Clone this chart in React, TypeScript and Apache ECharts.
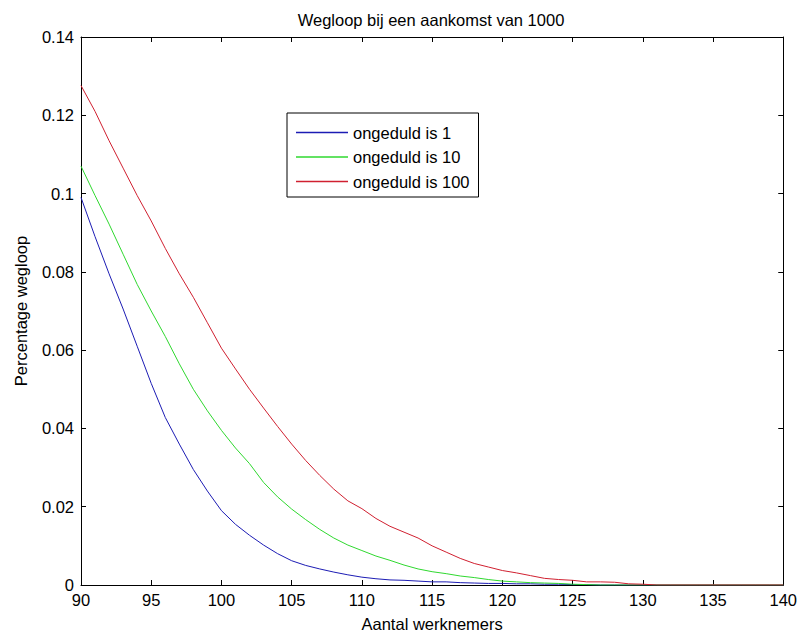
import React, { useEffect, useRef } from "react";
import * as echarts from "echarts";

const FONT = "'Liberation Sans', Arial, sans-serif";

const titleText = "Wegloop bij een aankomst van 1000";
const xName = "Aantal werknemers";
const yName = "Percentage wegloop";

const xValues = [
  90, 91, 92, 93, 94, 95, 96, 97, 98, 99, 100, 101, 102, 103, 104, 105, 106,
  107, 108, 109, 110, 111, 112, 113, 114, 115, 116, 117, 118, 119, 120, 121,
  122, 123, 124, 125, 126, 127, 128, 129, 130, 131, 132, 133, 134, 135, 136,
  137, 138, 139, 140,
];

const seriesNames = ["ongeduld is 1", "ongeduld is 10", "ongeduld is 100"];
const seriesColors = ["#1c1cb4", "#2fd82f", "#d02030"];

const ongeduld1 = [
  0.099, 0.089, 0.0795, 0.0705, 0.061, 0.0515, 0.0428, 0.036, 0.0295, 0.024,
  0.019, 0.0155, 0.0127, 0.0102, 0.008, 0.0062, 0.005, 0.0041, 0.0033, 0.0026,
  0.002, 0.0016, 0.0013, 0.0012, 0.001, 0.0008, 0.0008, 0.0006, 0.0005, 0.0004,
  0.0004, 0.0003, 0.0003, 0.0002, 0.0002, 0.0001, 0.0001, 0, 0, 0, 0, 0, 0, 0,
  0, 0, 0, 0, 0, 0, 0,
];

const ongeduld10 = [
  0.107, 0.0995, 0.0922, 0.0845, 0.0768, 0.07, 0.0635, 0.0565, 0.05, 0.0445,
  0.0395, 0.035, 0.031, 0.0262, 0.0225, 0.0194, 0.0167, 0.0142, 0.012, 0.0102,
  0.0088, 0.0074, 0.0063, 0.0051, 0.0041, 0.0034, 0.0029, 0.0023, 0.0019,
  0.0014, 0.001, 0.0008, 0.0006, 0.0005, 0.0004, 0.0002, 0.0001, 0, 0, 0, 0, 0,
  0, 0, 0, 0, 0, 0, 0, 0, 0,
];

const ongeduld100 = [
  0.1276, 0.121, 0.1135, 0.1065, 0.0995, 0.093, 0.086, 0.0795, 0.0735, 0.067,
  0.0605, 0.0552, 0.05, 0.0452, 0.0405, 0.036, 0.0318, 0.028, 0.0245, 0.0215,
  0.0195, 0.017, 0.015, 0.0135, 0.012, 0.01, 0.0084, 0.0068, 0.0055, 0.0046,
  0.0037, 0.0031, 0.0024, 0.0017, 0.0014, 0.0012, 0.0008, 0.0008, 0.0007,
  0.0003, 0.0002, 0, 0, 0, 0, 0, 0, 0, 0, 0, 0,
];

const allSeries = [ongeduld1, ongeduld10, ongeduld100];

export default function App() {
  const ref = useRef<HTMLDivElement>(null);

  useEffect(() => {
    if (!ref.current) return;
    const chart = echarts.init(ref.current, undefined, { renderer: "svg" });

    const axisLine = { show: true, onZero: false, lineStyle: { color: "#000", width: 1 } };
    const axisTick = { show: true, inside: true, length: 5, lineStyle: { color: "#000", width: 1 } };
    const labelStyle = { color: "#000", fontSize: 16.5, fontFamily: FONT };

    const option: any = {
      animation: false,
      backgroundColor: "#ffffff",
      grid: { left: 81, right: 15, top: 37, bottom: 47, containLabel: false },
      graphic: [
        {
          type: "text",
          x: 431,
          y: 20,
          style: {
            text: titleText,
            fill: "#000",
            font: `16.5px ${FONT}`,
            textAlign: "center",
            textVerticalAlign: "middle",
          },
        },
      ],
      legend: {
        orient: "vertical",
        left: 287,
        top: 113,
        icon: "rect",
        itemWidth: 52,
        itemHeight: 1.5,
        itemGap: 7.5,
        padding: [11, 9, 7, 9],
        borderColor: "#000",
        borderWidth: 1,
        backgroundColor: "#fff",
        textStyle: labelStyle,
        data: seriesNames,
      },
      xAxis: [
        {
          type: "value",
          position: "bottom",
          min: 90,
          max: 140,
          interval: 5,
          axisLine,
          axisTick,
          axisLabel: { ...labelStyle, margin: 6 },
          splitLine: { show: false },
          name: xName,
          nameLocation: "middle",
          nameGap: 30,
          nameTextStyle: labelStyle,
        },
        {
          type: "value",
          position: "top",
          min: 90,
          max: 140,
          interval: 5,
          axisLine,
          axisTick,
          axisLabel: { show: false },
          splitLine: { show: false },
        },
      ],
      yAxis: [
        {
          type: "value",
          position: "left",
          min: 0,
          max: 0.14,
          interval: 0.02,
          axisLine,
          axisTick,
          axisLabel: { ...labelStyle, margin: 7 },
          splitLine: { show: false },
          name: yName,
          nameLocation: "middle",
          nameGap: 52,
          nameTextStyle: labelStyle,
        },
        {
          type: "value",
          position: "right",
          min: 0,
          max: 0.14,
          interval: 0.02,
          axisLine,
          axisTick,
          axisLabel: { show: false },
          splitLine: { show: false },
        },
      ],
      series: allSeries.map((vals, i) => ({
        name: seriesNames[i],
        type: "line",
        xAxisIndex: 0,
        yAxisIndex: 0,
        symbol: "none",
        showSymbol: false,
        color: seriesColors[i],
        lineStyle: { color: seriesColors[i], width: 1 },
        data: xValues.map((x, j) => [x, vals[j]]),
      })),
    };

    chart.setOption(option);
    return () => chart.dispose();
  }, []);

  return (
    <div
      ref={ref}
      style={{ position: "fixed", left: 0, top: 0, width: 800, height: 637, background: "#fff" }}
    />
  );
}
